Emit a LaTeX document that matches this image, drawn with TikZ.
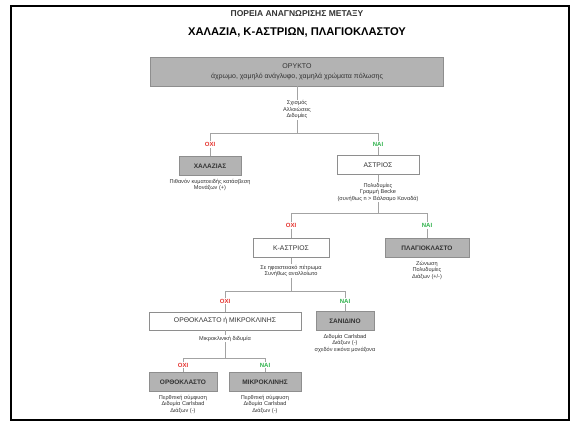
\documentclass[tikz,border=0pt]{standalone}
\usepackage{fontspec}
\setmainfont{Liberation Sans}
\usetikzlibrary{positioning}
\definecolor{boxgray}{HTML}{B3B3B3}
\definecolor{edgegray}{HTML}{8E8E8E}
\definecolor{linegray}{HTML}{A3A3A3}
\definecolor{textdark}{HTML}{333333}
\definecolor{noRed}{HTML}{E5322D}
\definecolor{yesGreen}{HTML}{2EB24B}

\begin{document}
\begin{tikzpicture}[x=1pt,y=-1pt,
  link/.style={draw=linegray,line width=0.7pt},
  graybox/.style={draw=edgegray,fill=boxgray,line width=0.8pt,text=textdark,
    font=\fontsize{6.5}{7.5}\selectfont\bfseries,minimum height=19pt,inner sep=2pt},
  whitebox/.style={draw=edgegray,fill=white,line width=0.8pt,text=textdark,
    font=\fontsize{6.8}{7.5}\selectfont,minimum height=19pt,inner sep=2pt},
  notetext/.style={fill=white,align=center,text=textdark,
    font=\fontsize{5.6}{6.5}\selectfont,inner sep=1pt},
  nolabel/.style={fill=white,text=noRed,font=\fontsize{6}{7}\selectfont\bfseries,inner sep=1pt},
  yeslabel/.style={fill=white,text=yesGreen,font=\fontsize{6}{7}\selectfont\bfseries,inner sep=1pt}]
\useasboundingbox (0,0) rectangle (573,426);
\draw[line width=2pt] (11,6) rectangle (569,420);

\node[text=textdark,font=\fontsize{8.5}{10}\selectfont\bfseries] (title) at (297,14) {ΠΟΡΕΙΑ ΑΝΑΓΝΩΡΙΣΗΣ ΜΕΤΑΞΥ};
\node[font=\fontsize{11.2}{13}\selectfont\bfseries] (subtitle) at (297,32) {ΧΑΛΑΖΙΑ, Κ-ΑΣΤΡΙΩΝ, ΠΛΑΓΙΟΚΛΑΣΤΟΥ};

\node[graybox,align=center,minimum width=293pt,minimum height=29pt,
  font=\fontsize{7}{10}\selectfont] (oryk) at (297,71.5)
  {ΟΡΥΚΤΟ\\άχρωμο, χαμηλό ανάγλυφο, χαμηλά χρώματα πόλωσης};
\node[graybox,minimum width=62pt] (xal) at (210,166) {ΧΑΛΑΖΙΑΣ};
\node[whitebox,minimum width=82pt] (ast) at (378,165) {ΑΣΤΡΙΟΣ};
\node[whitebox,minimum width=76pt] (kast) at (291,248) {Κ-ΑΣΤΡΙΟΣ};
\node[graybox,minimum width=84pt] (plag) at (427,248) {ΠΛΑΓΙΟΚΛΑΣΤΟ};
\node[whitebox,minimum width=152pt,minimum height=18pt] (orthmik) at (225,321) {ΟΡΘΟΚΛΑΣΤΟ ή ΜΙΚΡΟΚΛΙΝΗΣ};
\node[graybox,minimum width=58pt] (san) at (345,321) {ΣΑΝΙΔΙΝΟ};
\node[graybox,minimum width=68pt] (orth) at (183,382) {ΟΡΘΟΚΛΑΣΤΟ};
\node[graybox,minimum width=72pt] (mik) at (265,382) {ΜΙΚΡΟΚΛΙΝΗΣ};

\coordinate (b1) at (297,133);
\coordinate (b2) at (378,213);
\coordinate (b3) at (291,291);
\coordinate (b4) at (225,358);

\draw[link] (oryk) -- node[notetext]{Σχισμός\\Αλλοιώσεις\\Διδυμίες} (b1);
\draw[link] (xal) -- node[nolabel]{ΟΧΙ} (xal |- b1) -- (ast |- b1) -- node[yeslabel]{ΝΑΙ} (ast);
\node[notetext,below=2pt of xal] {Πιθανόν κυματοειδής κατάσβεση\\Μονάξων (+)};

\draw[link] (ast) -- node[notetext,pos=0.45]{Πολυδυμίες\\Γραμμή Becke\\(συνήθως n > Βάλσαμο Καναδά)} (b2);
\draw[link] (kast) -- node[nolabel]{ΟΧΙ} (kast |- b2) -- (plag |- b2) -- node[yeslabel]{ΝΑΙ} (plag);
\node[notetext,below=2pt of plag] {Ζώνωση\\Πολυδυμίες\\Διάξων (+/-)};

\draw[link] (kast) -- node[notetext,pos=0.4]{Σε ηφαιστειακό πέτρωμα\\Συνήθως αναλλοίωτο} (b3);
\draw[link] (orthmik) -- node[nolabel]{ΟΧΙ} (orthmik |- b3) -- (san |- b3) -- node[yeslabel]{ΝΑΙ} (san);
\node[notetext,below=2pt of san] {Διδυμία Carlsbad\\Διάξων (-)\\σχεδόν εικόνα μονάξονα};

\draw[link] (orthmik) -- node[notetext,pos=0.3]{Μικροκλινική διδυμία} (b4);
\draw[link] (orth) -- node[nolabel]{ΟΧΙ} (orth |- b4) -- (mik |- b4) -- node[yeslabel]{ΝΑΙ} (mik);
\node[notetext,below=2pt of orth] {Περθιτική σύμφυση\\Διδυμία Carlsbad\\Διάξων (-)};
\node[notetext,below=2pt of mik] {Περθιτική σύμφυση\\Διδυμία Carlsbad\\Διάξων (-)};
\end{tikzpicture}
\end{document}
